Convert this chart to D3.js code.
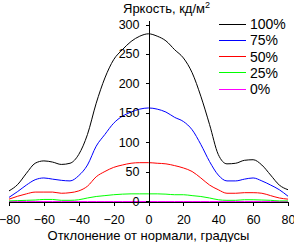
<!DOCTYPE html>
<html>
<head>
  <meta charset="utf-8">
  <title>Яркость</title>
  <style>
  body { margin: 0; background: #fff; }
  svg { display: block; font-family: "Liberation Sans", Arial, sans-serif; font-size: 12.5px; }
  .curve { fill: none; stroke-width: 1px; }
  </style>
</head>
<body>
  <svg width="294" height="242"></svg>
  <script src="https://d3js.org/d3.v7.min.js"></script>
  <script>
  // angles, degrees
  var angles = [-80, -75, -70, -65, -60, -55, -50, -45, -40, -35, -30, -25, -20, -15, -10, -5,
                0, 5, 10, 15, 20, 25, 30, 35, 40, 45, 50, 55, 60, 65, 70, 75, 80];

  var seriesNames = ["100%", "75%", "50%", "25%", "0%"];
  var seriesColors = ["#000000", "#0000ff", "#ff0000", "#00ff00", "#ff00ff"];

  var b100 = [18, 29, 48, 65, 69, 67, 63, 65, 80, 114, 167, 210, 241, 258, 272, 281,
              285, 281, 273, 258, 244, 219, 179, 131, 80, 64, 65, 70, 71, 62, 45, 28, 20];
  var b75 = [7, 17, 28, 37, 40, 38, 36, 35, 44, 62, 94, 114, 133, 145, 152, 157,
             159, 157, 152, 143, 136, 122, 97, 68, 45, 35, 35, 38, 40, 35, 28, 20, 9];
  var b50 = [4, 9, 13, 16, 16, 16, 14, 15, 18, 26, 42, 51, 58, 62, 65, 66,
             66, 65, 64, 61, 57, 51, 40, 28, 20, 14, 14, 15, 15, 14, 10, 6, 4];
  var b25 = [1, 1.5, 2, 2.5, 3.5, 3.5, 2, 2, 3, 6, 8.5, 10, 11.5, 12.5, 13, 13,
             13, 13, 12.5, 11.5, 11.5, 10, 8.5, 6, 3, 2, 2, 3, 3, 2.5, 2, 1, 1];
  var b0 = [0, 0, 0, 0, 0, 0, 0, 0, 0, 0, 0, 0, 0, 0, 0, 0,
            0, 0, 0, 0, 0, 0, 0, 0, 0, 0, 0, 0, 0, 0, 0, 0, 0];
  var seriesValues = [b100, b75, b50, b25, b0];

  var xTicks = [-80, -60, -40, -20, 0, 20, 40, 60, 80];
  var yTicks = [0, 50, 100, 150, 200, 250, 300];

  var svg = d3.select("svg");

  var x = d3.scaleLinear().domain([-80, 80]).range([9, 288]);
  var y = d3.scaleLinear().domain([0, 300]).range([201, 24.5]);

  var line = d3.line()
    .x(function(d) { return x(d[0]); })
    .y(function(d) { return y(d[1]); })
    .curve(d3.curveMonotoneX);

  // curves (0% first so it stays under the axis)
  var curves = svg.append("g").attr("transform", "translate(0,0.5)");
  for (var s = seriesValues.length - 1; s >= 0; s--) {
    var pts = angles.map(function(a, i) { return [a, seriesValues[s][i]]; });
    curves.append("path")
      .attr("class", "curve")
      .attr("stroke", seriesColors[s])
      .attr("d", line(pts));
  }

  // x axis
  var xAxis = svg.append("g").attr("transform", "translate(0," + (y(0) + 0.5) + ")")
    .call(d3.axisBottom(x).tickValues(xTicks).tickSize(4).tickSizeOuter(0).tickPadding(10));
  // y axis
  var yAxis = svg.append("g").attr("transform", "translate(" + (Math.round(x(0)) + 0.5) + ",0)")
    .call(d3.axisLeft(y).tickValues(yTicks).tickSize(4).tickSizeOuter(0).tickPadding(6));

  [xAxis, yAxis].forEach(function(g) {
    g.attr("font-family", null).attr("font-size", null);
    g.selectAll("line, path").attr("stroke", "#000").attr("shape-rendering", "crispEdges");
    g.selectAll("text").attr("fill", "#000");
  });
  yAxis.select(".domain").attr("d", "M0,21V" + (y(0) + 4));

  // title
  var title = svg.append("text").attr("x", 123).attr("y", 13)
    .attr("font-size", "13px").attr("fill", "#000");
  title.append("tspan").text("Яркость, кд/м");
  title.append("tspan").attr("dy", -5).attr("font-size", "9px").text("2");

  svg.append("text")
    .attr("x", 148.5).attr("y", 239.5)
    .attr("text-anchor", "middle")
    .attr("font-size", "13px")
    .text("Отклонение от нормали, градусы");

  // legend
  var legend = svg.selectAll(".legend")
    .data(seriesNames)
    .enter().append("g")
    .attr("transform", function(d, i) { return "translate(219," + (23.5 + i * 16.25) + ")"; });
  legend.append("line")
    .attr("x1", 0).attr("x2", 27).attr("y1", 0.5).attr("y2", 0.5)
    .attr("stroke", function(d, i) { return seriesColors[i]; })
    .attr("shape-rendering", "crispEdges");
  legend.append("text")
    .attr("x", 31).attr("y", 5.5)
    .attr("font-size", "14px")
    .text(function(d) { return d; });
  </script>
</body>
</html>
